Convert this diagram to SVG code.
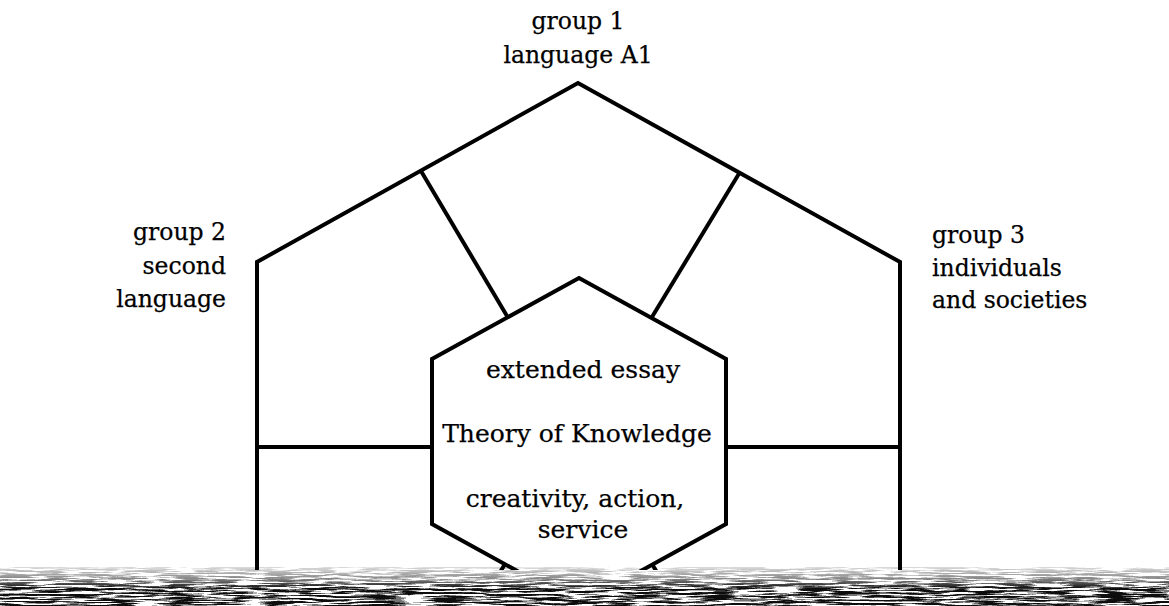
<svg xmlns="http://www.w3.org/2000/svg" width="1169" height="606" viewBox="0 0 1169 606">
  <style>
    .ln { fill: none; stroke: #000; stroke-width: 4; stroke-linejoin: miter; stroke-linecap: butt; }
    .lbl { font-family: "DejaVu Serif", "Liberation Serif", serif; font-size: 23.5px; fill: #000; stroke: #000; stroke-width: 0.25; }
    .core { font-family: "DejaVu Serif", "Liberation Serif", serif; font-size: 25px; fill: #000; stroke: #000; stroke-width: 0.25; text-anchor: middle; }
  </style>
  <defs>
    <filter id="grain" x="0" y="0" width="1" height="1" filterUnits="objectBoundingBox" color-interpolation-filters="sRGB">
      <feTurbulence type="fractalNoise" baseFrequency="0.03 0.55" numOctaves="3" seed="11" result="n"/>
      <feColorMatrix in="n" type="matrix" values="0 0 0 0 0  0 0 0 0 0  0 0 0 0 0  -4 0 0 0 2.5"/>
      <feComponentTransfer>
        <feFuncA type="discrete" tableValues="0 0.3 0.55 0.8 0.95"/>
      </feComponentTransfer>
    </filter>
    <linearGradient id="fade" x1="0" y1="0" x2="0" y2="1">
      <stop offset="0" stop-color="#fff" stop-opacity="0.15"/>
      <stop offset="0.3" stop-color="#fff" stop-opacity="0.5"/>
      <stop offset="0.55" stop-color="#fff" stop-opacity="1"/>
      <stop offset="1" stop-color="#fff" stop-opacity="1"/>
    </linearGradient>
    <mask id="bandMask" maskUnits="userSpaceOnUse" x="0" y="567" width="1169" height="39">
      <rect x="0" y="567" width="1169" height="39" fill="url(#fade)"/>
    </mask>
    <clipPath id="above">
      <rect x="0" y="0" width="1169" height="570"/>
    </clipPath>
  </defs>

  <rect width="1169" height="606" fill="#fff"/>

  <!-- outer house-shaped frame -->
  <g id="frame" clip-path="url(#above)">
    <polyline class="ln" points="257,572 257,262 578,83 900,262 900,572"/>
  </g>

  <!-- core hexagon -->
  <g id="core" clip-path="url(#above)">
    <polygon class="ln" points="579,278 726,359 726,524 579,605 432,524 432,359"/>
    <text class="core" x="583" y="378">extended essay</text>
    <text class="core" x="577" y="442">Theory of Knowledge</text>
    <text class="core" x="575" y="507">creativity, action,</text>
    <text class="core" x="583" y="538">service</text>
  </g>

  <!-- dividers between the frame and the core -->
  <g id="connectors" clip-path="url(#above)">
    <line class="ln" x1="421" y1="171" x2="507" y2="316"/>
    <line class="ln" x1="740" y1="172" x2="652" y2="317"/>
    <line class="ln" x1="257" y1="447" x2="432" y2="447"/>
    <line class="ln" x1="726" y1="447" x2="900" y2="447"/>
    <line class="ln" x1="505" y1="564" x2="470" y2="622"/>
    <line class="ln" x1="652" y1="564" x2="687" y2="622"/>
  </g>

  <!-- labels -->
  <g id="group1">
    <text class="lbl" x="578" y="29" text-anchor="middle">group 1</text>
    <text class="lbl" x="578" y="63" text-anchor="middle">language A1</text>
  </g>
  <g id="group2">
    <text class="lbl" x="226" y="240" text-anchor="end">group 2</text>
    <text class="lbl" x="226" y="274" text-anchor="end">second</text>
    <text class="lbl" x="226" y="307" text-anchor="end">language</text>
  </g>
  <g id="group3">
    <text class="lbl" x="932" y="243" text-anchor="start">group 3</text>
    <text class="lbl" x="932" y="276" text-anchor="start">individuals</text>
    <text class="lbl" x="932" y="308" text-anchor="start">and societies</text>
  </g>

  <!-- scanned edge along the bottom -->
  <g id="scan-edge" mask="url(#bandMask)">
    <rect x="0" y="567" width="1169" height="39" fill="#222" filter="url(#grain)"/>
  </g>
</svg>
